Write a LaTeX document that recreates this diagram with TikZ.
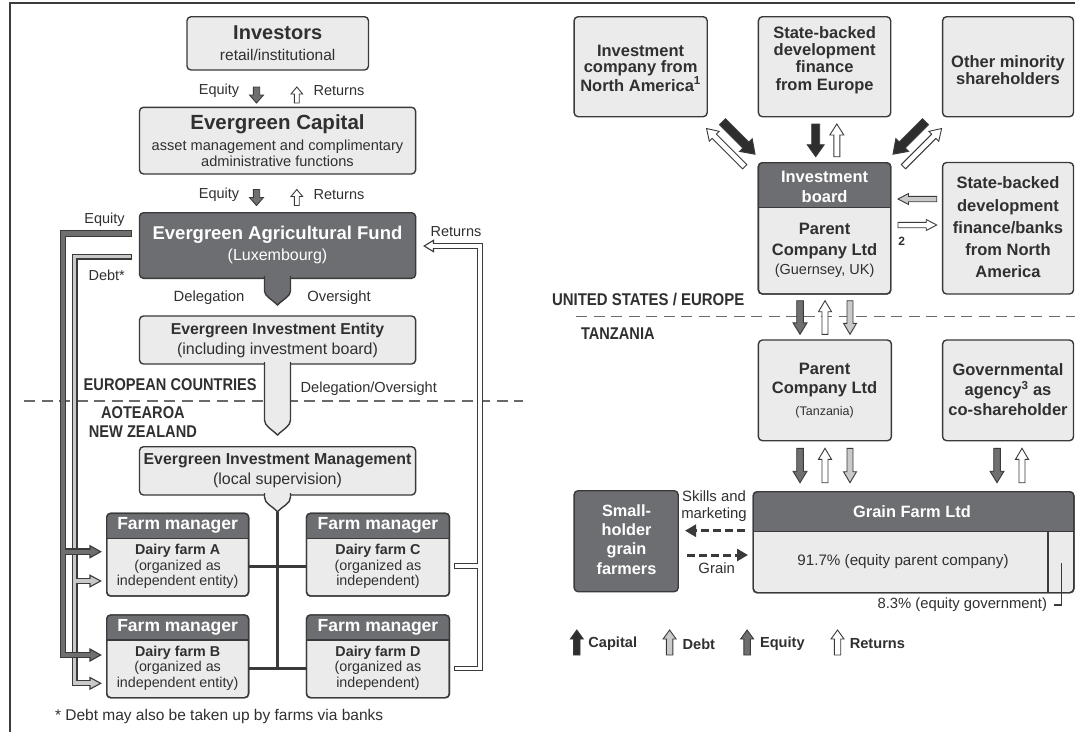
\documentclass[tikz,border=0pt]{standalone}
\usepackage{fontspec}
\usepackage{graphicx}
\setmainfont{Liberation Sans}
\usetikzlibrary{arrows.meta,fit}
\definecolor{txt}{HTML}{303030}
\definecolor{bord}{HTML}{3A3A3A}
\definecolor{lightf}{HTML}{EBEBEB}
\definecolor{darkf}{HTML}{6D6E71}
\definecolor{capf}{HTML}{2E2E2E}
\definecolor{eqf}{HTML}{6F6F6F}
\definecolor{debtf}{HTML}{C9C9C9}
\definecolor{dashc}{HTML}{6A6A6A}
\definecolor{framec}{HTML}{3C3C3C}
\newcommand\fs[2]{\fontsize{#1}{#2}\selectfont}
\newcommand\cond[2]{\scalebox{#1}[1]{#2}}
\newcommand\hdr[5]{%
  \begin{scope}
    \clip (#1-3,#2-3) rectangle (#3+3,#5);
    \fill[darkf, rounded corners=4pt] (#1,#2) rectangle (#3,#4);
  \end{scope}
  \draw[bord, line width=1.4pt, rounded corners=4pt] (#1,#2) rectangle (#3,#4);
  \draw[bord, line width=1.4pt] (#1,#5) -- (#3,#5);}
\tikzset{
  box/.style={draw=bord, fill=lightf, line width=1.4pt, rounded corners=4pt, inner sep=0pt, outer sep=0pt},
  dbox/.style={box, fill=darkf},
  tx/.style={text=txt, inner sep=0pt, outer sep=0pt},
  wtx/.style={text=white, inner sep=0pt, outer sep=0pt},
  conn/.style={draw=bord, line width=2.6pt},
  dasharr/.style={draw=bord, line width=3pt, dash pattern=on 8pt off 4pt, -{Triangle[length=11pt,width=12pt]}},
  divider/.style={draw=dashc, line width=1.5pt, dash pattern=on 11pt off 6.5pt},
  pics/barr/.style args={#1/#2/#3/#4/#5}{code={%
    \draw[fill=#1, draw=bord, line width=0.9pt, line join=miter]
      (0,-#3) -- ({#2-#5},-#3) -- ({#2-#5},-#4) -- (#2,0) -- ({#2-#5},#4) -- ({#2-#5},#3) -- (0,#3) -- cycle;}},
}
\begin{document}
\begin{tikzpicture}[x=1pt,y=-1pt]
\useasboundingbox (0,0) rectangle (1075,732);
\fill[white] (0,0) rectangle (1075,732);
% frame
\draw[framec, line width=2.2pt] (9.6,732) -- (9.6,3.3) -- (1075,3.3);

% ================= LEFT PANEL =================
\draw[divider] (24,401) -- (523,401);

\node[box, fit={(187,16.7) (368.5,70)}] (inv) {};
\node[tx, font=\fs{20}{22}\bfseries] (invT) at (277.7,33) {Investors};
\node[tx, font=\fs{15.5}{18}] (invS) at (277.7,55) {retail/institutional};

\pic[rotate=-90] at (256.5,87) {barr=eqf/16/3.2/7/8};
\pic[rotate=90] at (296.8,103) {barr=white/16/2.4/5.8/7};
\node[tx, font=\fs{14.5}{16}] (eqL1) at (219,91) {Equity};
\node[tx, font=\fs{14.5}{16}] (retL1) at (339,91) {Returns};

\node[box, fit={(139.5,107.3) (415.6,174)}] (cap) {};
\node[tx, font=\fs{20.5}{22}\bfseries] (capT) at (277.5,124) {Evergreen Capital};
\node[tx, font=\fs{14.6}{16}, align=center] (capS) at (277.5,153.7) {asset management and complimentary\\administrative functions};

\pic[rotate=-90] at (256.5,189.5) {barr=eqf/16/3.2/7/8};
\pic[rotate=90] at (296.8,205.5) {barr=white/16/2.4/5.8/7};
\node[tx, font=\fs{14.5}{16}] (eqL2) at (219,195) {Equity};
\node[tx, font=\fs{14.5}{16}] (retL2) at (339,195) {Returns};

\node[dbox, fit={(139.5,212.7) (415.6,278.3)}] (fund) {};
\draw[bord, fill=darkf, line width=1.4pt] (264.5,276) -- (264.5,291) .. controls (264.5,296) and (271.5,299) .. (277.5,305) .. controls (283.5,299) and (290.5,296) .. (290.5,291) -- (290.5,276);
\node[wtx, font=\fs{18.5}{20}\bfseries] (fundT) at (277.5,235) {Evergreen Agricultural Fund};
\node[wtx, font=\fs{16}{18}] (fundS) at (277.5,256.7) {(Luxembourg)};
\node[tx, font=\fs{14.8}{16}] (dele) at (209,297.3) {Delegation};
\node[tx, font=\fs{14.8}{16}] (over) at (339,297.3) {Oversight};

\node[box, fit={(139.5,316) (415.6,364)}] (ent) {};
\draw[bord, fill=lightf, line width=1.4pt] (264.5,362) -- (264.5,420) .. controls (264.5,426) and (271.5,429) .. (277.5,435) .. controls (283.5,429) and (290.5,426) .. (290.5,420) -- (290.5,362);
\node[tx, font=\fs{15.8}{18}\bfseries] (entT) at (277.5,330) {Evergreen Investment Entity};
\node[tx, font=\fs{16}{18}] (entS) at (277.5,350) {(including investment board)};

\node[tx, anchor=west, font=\fs{17}{20}\bfseries] (euc) at (83.7,385) {\cond{0.86}{EUROPEAN COUNTRIES}};
\node[tx, anchor=west, font=\fs{14.6}{16}] (delov) at (300.6,388.3) {Delegation/Oversight};
\node[tx, align=center, font=\fs{17}{19}\bfseries] (nz) at (142.9,422.2) {\cond{0.86}{AOTEAROA}\\\cond{0.86}{NEW ZEALAND}};

\node[box, fit={(139.5,446.7) (415.6,495)}] (mgmt) {};
\draw[bord, fill=lightf, line width=1.4pt] (264.5,493) -- (264.5,497) .. controls (264.5,504) and (272.5,506) .. (277.5,511.7) .. controls (282.5,506) and (290.5,504) .. (290.5,497) -- (290.5,493);
\node[tx, font=\fs{15.9}{18}\bfseries] (mgmtT) at (277.5,460.5) {Evergreen Investment Management};
\node[tx, font=\fs{16}{18}] (mgmtS) at (277.5,480.7) {(local supervision)};
\coordinate (mtip) at (277.5,511.7);

% farms
\node[box, fit={(106.7,513.3) (248.6,596)}] (fa) {};
\hdr{106.7}{513.3}{248.6}{596}{538.3}
\node[box, fit={(306.5,513.3) (449.4,596)}] (fc) {};
\hdr{306.5}{513.3}{449.4}{596}{538.3}
\node[box, fit={(106.7,615) (248.6,697.7)}] (fb) {};
\hdr{106.7}{615}{248.6}{697.7}{640}
\node[box, fit={(306.5,615) (449.4,697.7)}] (fd) {};
\hdr{306.5}{615}{449.4}{697.7}{640}
\node[wtx, font=\fs{17.5}{20}\bfseries] (faH) at (177.6,525.8) {Farm manager};
\node[wtx, font=\fs{17.5}{20}\bfseries] (fcH) at (378,525.8) {Farm manager};
\node[wtx, font=\fs{17.5}{20}\bfseries] (fbH) at (177.6,627.5) {Farm manager};
\node[wtx, font=\fs{17.5}{20}\bfseries] (fdH) at (378,627.5) {Farm manager};
\node[tx, align=center, font=\fs{14.3}{15.4}] (faT) at (177.6,566.5) {{\bfseries Dairy farm A}\\(organized as\\independent entity)};
\node[tx, align=center, font=\fs{14.3}{15.4}] (fcT) at (378,566.5) {{\bfseries Dairy farm C}\\(organized as\\independent)};
\node[tx, align=center, font=\fs{14.3}{15.4}] (fbT) at (177.6,668.2) {{\bfseries Dairy farm B}\\(organized as\\independent entity)};
\node[tx, align=center, font=\fs{14.3}{15.4}] (fdT) at (378,668.2) {{\bfseries Dairy farm D}\\(organized as\\independent)};

\coordinate (ja) at (277.5,566.7);
\coordinate (jb) at (277.5,668.3);
\draw[conn] (mtip) -- (jb);
\draw[conn] (fa.east |- ja) -- (fc.west |- ja);
\draw[conn] (fb.east |- jb) -- (fd.west |- jb);

% debt line
\begin{scope}[line join=miter]
\draw[bord, line width=6pt] (131.7,256.5) -- (74.5,256.5) -- (74.5,683.3) -- (90,683.3);
\draw[bord, line width=6pt] (74.5,581) -- (90,581);
\foreach \yy in {581,683.3} \draw[bord, fill=debtf, line width=1.1pt] (90,\yy-5.8) -- (100.7,\yy) -- (90,\yy+5.8) -- cycle;
\draw[debtf, line width=3.8pt, shorten <=1.2pt] (131.7,256.5) -- (74.5,256.5) -- (74.5,683.3) -- (91.2,683.3);
\draw[debtf, line width=3.8pt] (74.5,581) -- (91.2,581);
% equity line
\draw[bord, line width=6.5pt] (131.7,233.5) -- (63,233.5) -- (63,655) -- (90,655);
\draw[bord, line width=6.5pt] (63,551.7) -- (90,551.7);
\foreach \yy in {551.7,655} \draw[bord, fill=eqf, line width=1.1pt] (90,\yy-6) -- (100.7,\yy) -- (90,\yy+6) -- cycle;
\draw[eqf, line width=4.2pt, shorten <=1.2pt] (131.7,233.5) -- (63,233.5) -- (63,655) -- (91.2,655);
\draw[eqf, line width=4.2pt] (63,551.7) -- (91.2,551.7);
% returns line
\draw[bord, line width=5.6pt] (454,566) -- (480,566);
\draw[bord, line width=5.6pt] (454,668.3) -- (480,668.3) -- (480,246) -- (433.5,246);
\draw[bord, fill=white, line width=1.1pt] (433.5,240.3) -- (424.2,246) -- (433.5,251.7) -- cycle;
\draw[white, line width=3.4pt] (455.2,566) -- (480,566);
\draw[white, line width=3.4pt] (455.2,668.3) -- (480,668.3) -- (480,246) -- (432.4,246);
\end{scope}
\node[tx, font=\fs{14.5}{16}] (eqS) at (104.5,220) {Equity};
\node[tx, font=\fs{14.5}{16}] (dbS) at (106.7,275) {Debt*};
\node[tx, font=\fs{14.5}{16}] (rtS) at (456,231.7) {Returns};

\node[tx, anchor=west, font=\fs{15.5}{18}] (fn) at (55,716.7) {* Debt may also be taken up by farms via banks};

% ================= RIGHT PANEL =================
\draw[divider] (576,316.7) -- (1075,316.7);

\node[box, fit={(574.1,16.7) (707.2,116.7)}] (na) {};
\node[tx, align=center, font=\fs{16.5}{16}\bfseries] (naT) at (640.6,68.3) {Investment\\company from\\North America\textsuperscript{1}};
\node[box, fit={(758.4,16.7) (890.7,116.7)}] (eu) {};
\node[tx, align=center, font=\fs{16.5}{17.2}\bfseries] (euT) at (824.6,60) {State-backed\\development\\finance\\from Europe};
\node[box, fit={(942.6,16.7) (1073.5,116.7)}] (oth) {};
\node[tx, align=center, font=\fs{16.5}{16.6}\bfseries] (othT) at (1008,70) {Other minority\\shareholders};

\node[box, fit={(758.4,162.7) (890.7,294)}] (pb) {};
\hdr{758.4}{162.7}{890.7}{294}{207.3}
\node[wtx, align=center, font=\fs{16.5}{20}\bfseries] (pbH) at (824.6,186.7) {Investment\\board};
\node[tx, align=center, font=\fs{16.5}{20.3}\bfseries] (pbT) at (824.6,240.9) {Parent\\Company Ltd};
\node[tx, font=\fs{14.5}{16}] (pbS) at (824.6,271) {(Guernsey, UK)};

\node[box, fit={(942.6,162.5) (1073.5,294)}] (sna) {};
\node[tx, align=center, font=\fs{16.5}{22.2}\bfseries] (snaT) at (1008,227.3) {State-backed\\development\\finance/banks\\from North\\America};

\pic[rotate=-45] at (722.5,121.7) {barr=capf/46/4.2/9/13};
\pic[rotate=135] at (744.7,166.7) {barr=white/54/3/7/11};
\pic[rotate=-90] at (815.7,124) {barr=capf/32.7/4/8.5/12};
\pic[rotate=90] at (836.8,156.7) {barr=white/32.7/3/7/11};
\pic[rotate=-135] at (925.5,121.7) {barr=capf/46/4.2/9/13};
\pic[rotate=45] at (903.4,166.7) {barr=white/54/3/7/11};

\pic[rotate=180] at (936.7,199) {barr=debtf/38.7/2.7/5.5/10.5};
\pic at (898,225) {barr=white/38.7/2.7/5.5/10.5};
\node[tx, font=\fs{12}{14}\bfseries] (two) at (901.7,241.7) {2};

\node[tx, anchor=west, font=\fs{17}{20}\bfseries] (use) at (552,300) {\cond{0.88}{UNITED STATES / EUROPE}};
\node[tx, anchor=west, font=\fs{17}{20}\bfseries] (tz) at (581,334) {\cond{0.86}{TANZANIA}};

\pic[rotate=-90] at (800,300.7) {barr=eqf/33.6/3.3/7/11.5};
\pic[rotate=90] at (825,334.3) {barr=white/33.6/3/6.5/11};
\pic[rotate=-90] at (850,300.7) {barr=debtf/33.6/3/6.5/11};

\node[box, fit={(758.4,340) (891.4,440.7)}] (ptz) {};
\node[tx, align=center, font=\fs{16.5}{19}\bfseries] (ptzT) at (824.6,380.5) {Parent\\Company Ltd};
\node[tx, font=\fs{12.5}{14}] (ptzS) at (824.6,412.7) {(Tanzania)};

\node[box, fit={(942.6,340) (1073.5,440.7)}] (gov) {};
\node[tx, align=center, font=\fs{16.5}{20}\bfseries] (govT) at (1008,390) {Governmental\\agency\textsuperscript{3} as\\co-shareholder};

\pic[rotate=-90] at (800,448.3) {barr=eqf/34.4/3.3/7/11.5};
\pic[rotate=90] at (825,482.7) {barr=white/34.4/3/6.5/11};
\pic[rotate=-90] at (850,448.3) {barr=debtf/34.4/3/6.5/11};
\pic[rotate=-90] at (997,448.3) {barr=eqf/34.4/3.3/7/11.5};
\pic[rotate=90] at (1022,482.7) {barr=white/34.4/3/6.5/11};

\node[box, fit={(753.2,491.7) (1073.8,592.7)}] (gf) {};
\hdr{753.2}{491.7}{1073.8}{592.7}{531.7}
\draw[bord, line width=1.4pt] (1048,531.7) -- (1048,592.7);
\node[wtx, font=\fs{16.4}{18}\bfseries] (gfT) at (912,511.5) {Grain Farm Ltd};
\node[tx, font=\fs{15.2}{18}] (gfS) at (903,561.7) {91.7\% (equity parent company)};
\coordinate (gvl) at (1061.7,563.3);
\coordinate (gvc) at (1061.7,605);
\node[tx, anchor=east, font=\fs{14.8}{17}] (gvT) at (1047,605) {8.3\% (equity government)};
\draw[bord, line width=1.2pt] (gvl) -- (gvc) -- (1053.5,605);

\node[dbox, fit={(574.1,490.7) (678.2,591.7)}] (sh) {};
\node[wtx, align=center, font=\fs{16.3}{19.4}\bfseries] (shT) at (626.5,539.3) {Small-\\holder\\grain\\farmers};

\coordinate (dy1) at (0,530.7);
\coordinate (dy2) at (0,555);
\draw[dasharr, shorten <=8.5pt, shorten >=6.8pt] (gf.west |- dy1) -- (sh.east |- dy1);
\draw[dasharr, shorten <=9.2pt, shorten >=5.2pt] (sh.east |- dy2) -- (gf.west |- dy2);
\node[tx, align=center, font=\fs{14.9}{17.7}] (skl) at (714,506.2) {Skills and\\marketing};
\node[tx, font=\fs{14.9}{17}] (grn) at (716.7,567.7) {Grain};

% legend
\pic[rotate=90] at (576.8,655) {barr=capf/25/3.2/6.5/9};
\node[tx, anchor=west, font=\fs{14.6}{17}\bfseries] (lgC) at (588.4,644) {Capital};
\pic[rotate=90] at (669.6,655) {barr=debtf/25/3.2/6.5/9};
\node[tx, anchor=west, font=\fs{14.6}{17}\bfseries] (lgD) at (682.6,644) {Debt};
\pic[rotate=90] at (747.1,655) {barr=eqf/25/3.2/6.5/9};
\node[tx, anchor=west, font=\fs{14.6}{17}\bfseries] (lgE) at (760,644) {Equity};
\pic[rotate=90] at (837.5,655) {barr=white/25/3.2/6.5/9};
\node[tx, anchor=west, font=\fs{14.6}{17}\bfseries] (lgR) at (849.8,644) {Returns};
\end{tikzpicture}
\end{document}
